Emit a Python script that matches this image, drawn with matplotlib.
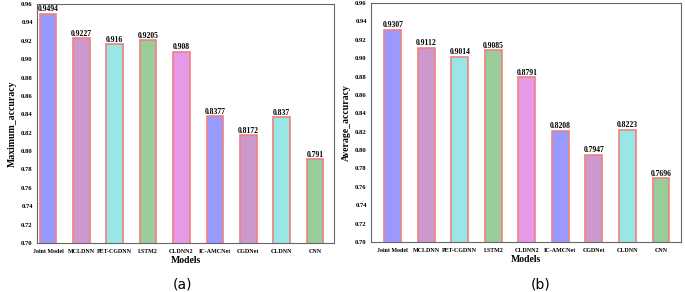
import numpy as np
import matplotlib.pyplot as plt

models = ['Joint Model', 'MCLDNN', 'PET-CGDNN', 'LSTM2', 'CLDNN2', 'IC-AMCNet', 'CGDNet', 'CLDNN', 'CNN']
max_acc = [0.9494, 0.9227, 0.916, 0.9205, 0.908, 0.8377, 0.8172, 0.837, 0.791]
max_lbl = ['0.9494', '0.9227', '0.916', '0.9205', '0.908', '0.8377', '0.8172', '0.837', '0.791']
avg_acc = [0.9307, 0.9112, 0.9014, 0.9085, 0.8791, 0.8208, 0.7947, 0.8223, 0.7696]
avg_lbl = ['0.9307', '0.9112', '0.9014', '0.9085', '0.8791', '0.8208', '0.7947', '0.8223', '0.7696']
colors = ['#9999ff', '#cc99cc', '#99e6e6', '#99cc99', '#e699e6', '#9999ff', '#cc99cc', '#99e6e6', '#99cc99']

plt.rcParams['font.family'] = ['Liberation Serif', 'DejaVu Serif']
fig = plt.figure(figsize=(6.85, 2.92), dpi=100)
ax1 = fig.add_axes([37/685, 1-243/292, 297/685, 239/292])
ax2 = fig.add_axes([371/685, 1-242/292, 310/685, 239/292])

def draw(ax, vals, lbls, ylabel, xlim):
    x = np.arange(len(models))
    ax.bar(x, vals, width=0.5, color=colors, edgecolor='#f08080', linewidth=1.2)
    for xi, v, t in zip(x, vals, lbls):
        ax.text(xi, v + 0.0005, t, ha='center', va='bottom', fontsize=5.5, fontweight='bold')
    ax.set_ylim(0.70, 0.96)
    ax.set_yticks(np.arange(0.70, 0.961, 0.02))
    ax.set_yticklabels(['%.2f' % t for t in np.arange(0.70, 0.961, 0.02)])
    ax.set_xlim(*xlim)
    ax.set_xticks(x)
    ax.set_xticklabels(models)
    ax.tick_params(axis='y', labelsize=4.8, length=0, pad=3)
    ax.tick_params(axis='x', labelsize=4.3, length=0, pad=4)
    for lab in ax.get_xticklabels() + ax.get_yticklabels():
        lab.set_fontweight('bold')
    ax.set_xlabel('Models', fontsize=7, fontweight='bold', labelpad=2)
    ax.set_ylabel(ylabel, fontsize=7, fontweight='bold', labelpad=3)
    for s in ax.spines.values():
        s.set_color('#666666')
        s.set_linewidth(0.8)

draw(ax1, max_acc, max_lbl, 'Maximum_accuracy', (-0.33, 8.57))
draw(ax2, avg_acc, avg_lbl, 'Average_accuracy', (-0.65, 8.6))

fig.text(183/685, 1-284/292, '(a)', ha='center', va='center', fontsize=10, family='DejaVu Sans')
fig.text(541/685, 1-284/292, '(b)', ha='center', va='center', fontsize=10, family='DejaVu Sans')

fig.savefig('out.png', dpi=100)
